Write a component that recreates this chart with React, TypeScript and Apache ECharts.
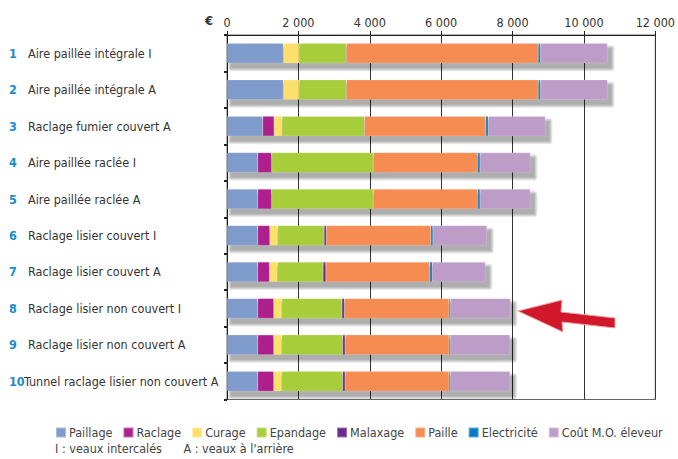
import React, { useEffect, useRef } from "react";
import * as echarts from "echarts";

const categories = [
  "Aire paillée intégrale I",
  "Aire paillée intégrale A",
  "Raclage fumier couvert A",
  "Aire paillée raclée I",
  "Aire paillée raclée A",
  "Raclage lisier couvert I",
  "Raclage lisier couvert A",
  "Raclage lisier non couvert I",
  "Raclage lisier non couvert A",
  "Tunnel raclage lisier non couvert A",
];
const rowNumbers = ["1", "2", "3", "4", "5", "6", "7", "8", "9", "10"];

const paillage = [1580, 1580, 1000, 860, 860, 860, 860, 860, 860, 860];
const raclage = [0, 0, 320, 390, 390, 340, 330, 450, 450, 450];
const curage = [440, 440, 220, 0, 0, 220, 220, 220, 220, 220];
const epandage = [1320, 1320, 2310, 2850, 2850, 1300, 1280, 1690, 1710, 1710];
const malaxage = [0, 0, 0, 0, 0, 60, 80, 70, 70, 70];
const paille = [5380, 5380, 3400, 2920, 2920, 2930, 2910, 2930, 2910, 2910];
const electricite = [60, 60, 70, 70, 70, 60, 70, 40, 40, 40];
const coutMO = [1880, 1880, 1600, 1410, 1410, 1510, 1490, 1680, 1670, 1670];

const seriesNames = [
  "Paillage",
  "Raclage",
  "Curage",
  "Epandage",
  "Malaxage",
  "Paille",
  "Electricité",
  "Coût M.O. éleveur",
];
const seriesData = [paillage, raclage, curage, epandage, malaxage, paille, electricite, coutMO];
const seriesColors = [
  "#7f9bcc",
  "#ad1f8d",
  "#fde06b",
  "#a8cd3a",
  "#6a2a8e",
  "#f68c52",
  "#0b7cc3",
  "#bd9cc8",
];

const xTicks = [0, 2000, 4000, 6000, 8000, 10000, 12000];

const FONT = "'DejaVu Sans Condensed', 'Liberation Sans Narrow', 'Open Sans', sans-serif";

function fmt(v: number): string {
  return String(v).replace(/\B(?=(\d{3})+(?!\d))/g, " ");
}

const totals = categories.map((_, i) => seriesData.reduce((s, arr) => s + arr[i], 0));

export default function App() {
  const ref = useRef<HTMLDivElement>(null);
  useEffect(() => {
    if (!ref.current) return;
    const chart = echarts.init(ref.current, undefined, { renderer: "svg" });
    const BAR = 20;
    const shadowSeries = {
      type: "custom",
      name: "shadow",
      silent: true,
      z: 1,
      encode: { x: 0, y: 1 },
      data: totals.map((t, i) => [t, i]),
      renderItem: (params: any, api: any) => {
        const idx = api.value(1);
        const s = api.coord([0, idx]);
        const e = api.coord([api.value(0), idx]);
        const x0 = s[0] + 4;
        const y0 = s[1] - BAR / 2 + 5;
        const w = e[0] - s[0];
        const children: any[] = [];
        for (let k = 3; k >= 0; k--) {
          children.push({
            type: "rect",
            shape: { x: x0 - k, y: y0 - k, width: w + 2 * k, height: BAR + 2 * k, r: k },
            style: { fill: "rgba(0,0,0,0.09)" },
          });
        }
        return { type: "group", children };
      },
    };
    const option: any = {
      animation: false,
      backgroundColor: "#ffffff",
      textStyle: { fontFamily: FONT },
      grid: {
        left: 227,
        right: 17.5,
        top: 35,
        bottom: 59.5,
        show: true,
        borderColor: "#666",
        borderWidth: 1,
        backgroundColor: "transparent",
      },
      xAxis: {
        type: "value",
        position: "top",
        min: xTicks[0],
        max: xTicks[xTicks.length - 1],
        interval: 2000,
        axisLine: { show: true, lineStyle: { color: "#222", width: 1 } },
        axisTick: { show: true, length: 4, lineStyle: { color: "#222" } },
        axisLabel: {
          formatter: (v: number) => fmt(v),
          color: "#333",
          fontSize: 12.5,
          fontFamily: FONT,
          margin: 6,
        },
        splitLine: { show: true, lineStyle: { color: "#333", width: 1 } },
      },
      yAxis: {
        type: "category",
        inverse: true,
        data: categories,
        axisLine: { show: true, lineStyle: { color: "#222", width: 1 } },
        axisTick: { show: true, length: 3, lineStyle: { color: "#222", width: 2 } },
        axisLabel: {
          align: "left",
          margin: 218,
          formatter: (value: string, index: number) => {
            const n = rowNumbers[index];
            return n.length > 1 ? `{m|${n}}{t|${value}}` : `{n|${n}}{t|${value}}`;
          },
          rich: {
            n: { color: "#1b8bcb", fontWeight: "bold", fontSize: 12.5, width: 19, fontFamily: FONT },
            m: { color: "#1b8bcb", fontWeight: "bold", fontSize: 12.5, width: 15, fontFamily: FONT },
            t: { color: "#333", fontSize: 12.5, fontFamily: FONT },
          },
        },
      },
      legend: {
        left: 50,
        top: 421,
        itemWidth: 10,
        itemHeight: 10,
        itemGap: 10,
        icon: "rect",
        textStyle: { color: "#444", fontSize: 12.5, fontFamily: FONT, padding: [0, 0, 0, -2] },
        data: seriesNames,
      },
      graphic: [
        {
          type: "text",
          left: 205,
          top: 14,
          style: { text: "€", fill: "#333", font: `bold 13px ${FONT}` },
        },
        {
          type: "text",
          left: 55,
          top: 442,
          style: {
            text: "I : veaux intercalés      A : veaux à l'arrière",
            fill: "#444",
            font: `12.5px ${FONT}`,
          },
        },
        {
          type: "polygon",
          shape: {
            points: [
              [518, 311],
              [562, 300],
              [561, 312],
              [615, 318],
              [615, 328],
              [562, 322],
              [563, 332],
            ],
          },
          style: {
            fill: "#d0182a",
            stroke: "#e9a3a6",
            lineWidth: 1,
          },
          z: 100,
        },
      ],
      series: [
        shadowSeries,
        ...seriesNames.map((name, i) => ({
          name,
          type: "bar",
          stack: "total",
          barWidth: BAR,
          z: 3,
          data: seriesData[i].map((v) => (v === 0 ? "-" : v)),
          itemStyle: {
            color: seriesColors[i],
            borderColor: "rgba(255,255,255,0.35)",
            borderWidth: 0.5,
          },
          emphasis: { disabled: true },
        })),
      ],
    };
    chart.setOption(option);
    return () => chart.dispose();
  }, []);
  return <div ref={ref} style={{ width: 678, height: 459, position: "absolute", left: 0, top: 0 }} />;
}
